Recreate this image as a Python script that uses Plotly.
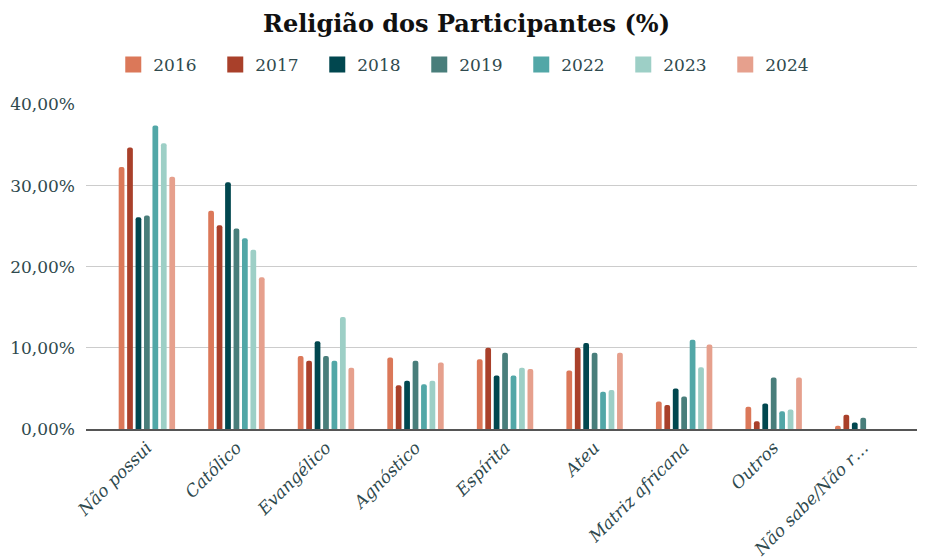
import plotly.graph_objects as go

categories = ["Não possui", "Católico", "Evangélico", "Agnóstico", "Espírita",
              "Ateu", "Matriz africana", "Outros", "Não sabe/Não r…"]
years = ["2016", "2017", "2018", "2019", "2022", "2023", "2024"]

v2016 = [32.3, 26.9, 9.0, 8.8, 8.6, 7.2, 3.4, 2.75, 0.4]
v2017 = [34.7, 25.1, 8.4, 5.4, 10.0, 10.0, 2.95, 0.95, 1.75]
v2018 = [26.1, 30.4, 10.8, 5.95, 6.6, 10.6, 5.0, 3.15, 0.8]
v2019 = [26.3, 24.7, 9.0, 8.4, 9.4, 9.4, 4.0, 6.35, 1.4]
v2022 = [37.4, 23.5, 8.4, 5.5, 6.6, 4.6, 11.0, 2.2, None]
v2023 = [35.2, 22.1, 13.8, 5.95, 7.55, 4.8, 7.6, 2.4, None]
v2024 = [31.1, 18.7, 7.55, 8.2, 7.4, 9.4, 10.4, 6.35, None]

series = [v2016, v2017, v2018, v2019, v2022, v2023, v2024]
colors = ["#DB7859", "#A9402A", "#01474F", "#497E7B", "#52A7A7", "#9DCFC6", "#E6A08D"]

y_tickvals = [0, 10, 20, 30, 40]
y_ticktext = ["0,00%", "10,00%", "20,00%", "30,00%", "40,00%"]

FONT = "DejaVu Serif"
TXT = "#2F4A4E"

fig = go.Figure()
for name, vals, col in zip(years, series, colors):
    fig.add_trace(go.Bar(
        name=name, x=list(range(len(categories))), y=vals,
        marker=dict(color=col, line=dict(width=0)),
        hovertemplate="%{y:.2f}%<extra>" + name + "</extra>",
        showlegend=False, legendgroup=name,
    ))
# legend entries with larger square symbols
for name, col in zip(years, colors):
    fig.add_trace(go.Scatter(
        name=name, x=[None], y=[None], mode="markers",
        marker=dict(symbol="square", size=17, color=col),
        legendgroup=name, showlegend=True, hoverinfo="skip",
    ))

# page body has an 8px margin; figure sized to fill the rest of the window
fig.update_layout(
    width=917, height=551,
    paper_bgcolor="white", plot_bgcolor="white",
    margin=dict(l=78, r=0, t=96, b=130),
    barmode="group", bargap=0.34, bargroupgap=0.32,
    barcornerradius=3,
    title=dict(text="<b>Religião dos Participantes (%)</b>", x=0.5, xanchor="center",
               y=0.972, yanchor="middle",
               font=dict(family=FONT, size=24, color="#111111")),
    legend=dict(orientation="h", x=0.458, xanchor="center", y=1.12, yanchor="middle",
                font=dict(family=FONT, size=17, color=TXT),
                entrywidth=57, itemwidth=30, traceorder="normal"),
    font=dict(family=FONT, color=TXT),
)
fig.update_xaxes(
    tickmode="array", tickvals=list(range(len(categories))), ticktext=categories,
    range=[-0.68, 8.69], tickangle=-45, automargin=False,
    tickfont=dict(family=FONT, size=17, color=TXT, style="italic"),
    showgrid=False, showline=True, linecolor="#555555", linewidth=2,
    ticks="", zeroline=False,
)
fig.update_yaxes(
    range=[0, 40.05], tickmode="array", tickvals=y_tickvals, ticktext=y_ticktext,
    showgrid=True, gridcolor="#CCCCCC", gridwidth=1.3, automargin=False,
    tickfont=dict(family=FONT, size=17, color=TXT),
    ticklabelstandoff=10, zeroline=False, showline=False,
)

fig.write_html("out.html")
